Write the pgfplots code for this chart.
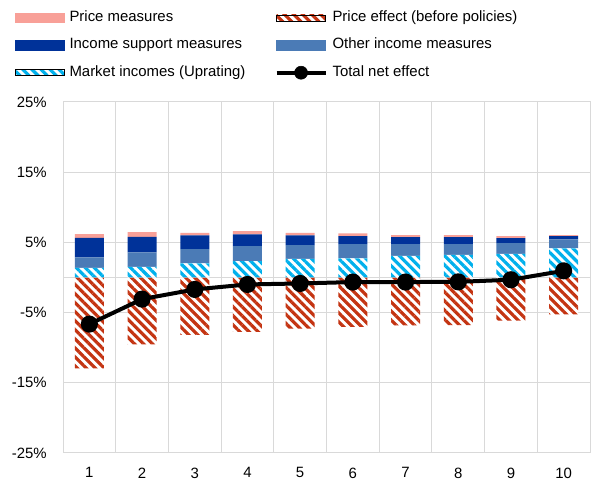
\documentclass[border=0pt]{standalone}
\usepackage{pgfplots}
\pgfplotsset{compat=1.18}
\usepackage{pgfplotstable}
\usepackage{fontspec}
\setmainfont{Liberation Sans}
\usetikzlibrary{patterns.meta}

\definecolor{pmcol}{RGB}{248,160,152}
\definecolor{pecol}{RGB}{196,52,18}
\definecolor{iscol}{RGB}{0,50,153}
\definecolor{oicol}{RGB}{75,123,182}
\definecolor{micol}{RGB}{0,176,236}
\definecolor{gridcol}{RGB}{217,217,217}

% Contributions by income decile (percentage points)
\pgfplotstableread{
decile market other support pricemeas priceeff total
1  1.38 1.48 2.80 0.52 -12.95 -6.64
2  1.53 2.04 2.23 0.67  -9.53 -3.08
3  2.00 2.05 1.95 0.37  -8.16 -1.70
4  2.34 2.13 1.67 0.47  -7.73 -0.99
5  2.67 1.95 1.38 0.37  -7.30 -0.85
6  2.72 2.04 1.14 0.38  -7.02 -0.65
7  3.09 1.67 0.99 0.29  -6.83 -0.65
8  3.24 1.52 1.00 0.29  -6.78 -0.62
9  3.38 1.52 0.71 0.29  -6.16 -0.32
10 4.14 1.29 0.47 0.15  -5.26  0.95
}\data

\tikzset{
  stripes/.style={pattern={Lines[angle=-45,distance=4.8pt,line width=2.4pt]}},
}

\newcommand{\lblfont}{\fontsize{11.2}{13}\selectfont}

\pgfplotsset{
  frame/.style={
    scale only axis, width=395.25pt, height=263.25pt,
    xmin=0.5, xmax=10.5, ymin=-25, ymax=25,
    at={(47.25pt,21pt)}, anchor=south west,
  },
  bare/.style={frame, hide axis},
}

\begin{document}
\begin{tikzpicture}
\path[use as bounding box] (0,0) rectangle (444.75pt,360.75pt);

% frame, grid, ticks and the (negative) price effect
\begin{axis}[
  frame,
  axis line style={gridcol, line width=0.75pt},
  xtick={1,...,10},
  xticklabels={1,2,3,4,5,6,7,8,9,10},
  minor x tick num=1,
  xminorgrids,
  ytick={-25,-15,-5,0,5,15,25},
  yticklabels={-25\%,-15\%,-5\%,,5\%,15\%,25\%},
  ymajorgrids,
  major grid style={gridcol, line width=0.75pt},
  minor grid style={gridcol, line width=0.75pt},
  major tick length=0pt, minor tick length=0pt,
  tick label style={font=\lblfont, inner sep=0pt},
  yticklabel style={xshift=-12pt},
  xticklabel style={yshift=-10.8pt},
]
\addplot[ybar, bar width=21.75pt, bar shift=0pt, fill=white, draw=none,
  postaction={stripes, pattern color=pecol}]
  table[x=decile, y=priceeff]{\data};
\end{axis}

% positive contributions, stacked
\begin{axis}[bare, ybar stacked, bar width=21.75pt]
\addplot[fill=white, draw=none, postaction={stripes, pattern color=micol}]
  table[x=decile, y=market]{\data};
\addplot[fill=oicol, draw=none] table[x=decile, y=other]{\data};
\addplot[fill=iscol, draw=none] table[x=decile, y=support]{\data};
\addplot[fill=pmcol, draw=none] table[x=decile, y=pricemeas]{\data};
\end{axis}

% total net effect and legend
\begin{axis}[
  bare, clip=false,
  legend columns=2,
  legend cell align=left,
  legend style={draw=none, fill=none, inner sep=0pt, outer sep=0pt,
    at={(0,1)}, anchor=north west, xshift=-36pt, yshift=68.4pt,
    font=\lblfont, row sep=10.1pt,
    nodes={inner sep=0pt, text height=8pt, text depth=2.5pt},
    /tikz/every odd column/.append style={column sep=3.75pt},
    /tikz/every even column/.append style={column sep=21.8pt}},
]
\addlegendimage{legend image code/.code={\fill[pmcol] (0pt,-3.5pt) rectangle (36.75pt,3.5pt);}}
\addlegendentry{Price measures}
\addlegendimage{legend image code/.code={\fill[white] (0pt,-2.25pt) rectangle (36.75pt,2.25pt);
  \fill[stripes, pattern color=pecol] (0pt,-2.25pt) rectangle (36.75pt,2.25pt);}}
\addlegendentry{Price effect (before policies)}
\addlegendimage{legend image code/.code={\fill[iscol] (0pt,-3.5pt) rectangle (36.75pt,3.5pt);}}
\addlegendentry{Income support measures}
\addlegendimage{legend image code/.code={\fill[oicol] (0pt,-3.5pt) rectangle (36.75pt,3.5pt);}}
\addlegendentry{Other income measures}
\addlegendimage{legend image code/.code={\fill[white] (0pt,-2.25pt) rectangle (36.75pt,2.25pt);
  \fill[stripes, pattern color=micol] (0pt,-2.25pt) rectangle (36.75pt,2.25pt);}}
\addlegendentry{Market incomes (Uprating)}
\addlegendimage{legend image code/.code={\draw[black, line width=3pt] (0pt,0pt) -- (36.75pt,0pt);
  \fill[black] (18.4pt,0pt) circle (4.9pt);}}
\addlegendentry{Total net effect}
\addplot[black, line width=3pt, mark=*, mark size=4.9pt, forget plot]
  table[x=decile, y=total]{\data};
\end{axis}
\end{tikzpicture}
\end{document}
